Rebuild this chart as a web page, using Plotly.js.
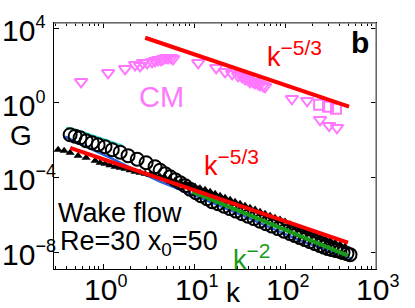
<!DOCTYPE html>
<html>
<head>
<meta charset="utf-8">
<script src="https://cdn.plot.ly/plotly-3.0.1.min.js"></script>
<style>html,body{margin:0;padding:0;background:#fff;}#chart{width:415px;height:308px;}</style>
</head>
<body>
<div id="chart"></div>
<script>
// ---- data ----
var cmTriK = [0.573, 1.135, 1.745, 2.25, 2.55, 2.75, 3.05, 3.45, 3.72, 4.02, 4.34, 4.56, 4.92, 5.18, 5.58, 5.88,
  11.1, 17.5, 21.9, 26.2, 30.5, 33.7, 36.3, 39.2, 41.2, 44.5, 46.8, 50.5, 53.1, 57.3, 60.3, 119, 175, 243, 305, 372];
var cmTriG = [13.3, 40.2, 65.8, 108, 95, 138, 138, 156, 176, 199, 199, 225, 255, 255, 255, 225,
  138, 74.5, 45.5, 35.6, 27.8, 24.5, 19.2, 17.0, 13.3, 13.3, 11.7, 10.4, 9.2, 8.1, 7.2, 1.64, 1.28, 0.123, 0.0589, 0.046];
var cmSqK = [237, 297, 363];
var cmSqG = [0.78, 0.61, 0.48];

var circK = [0.434, 0.492, 0.558, 0.650, 0.757, 0.881, 1.05, 1.26, 1.54, 1.88, 2.37, 2.97, 3.72, 4.23, 4.80, 5.45,
  6.18, 7.02, 7.96, 9.04, 10.5, 11.9, 13.9, 15.8, 18.4, 21.4, 24.9, 28.9, 33.7, 39.2, 45.6, 53.1, 61.8, 71.9, 83.8,
  97.5, 114, 128.8, 146, 165.9, 188, 213.6, 243, 268.4, 297, 328.3, 363, 401.8, 434, 479.7, 518];
var circG = [1.95e-2, 1.62e-2, 1.34e-2, 9.3e-3, 7.26e-3, 5.68e-3, 4.44e-3, 3.07e-3, 2.25e-3, 1.47e-3, 9.52e-4, 6.18e-4,
  3.78e-4, 2.45e-4, 1.60e-4, 1.10e-4, 7.63e-5, 5.27e-5, 3.64e-5, 2.37e-5, 1.54e-5, 1.06e-5, 7.35e-6, 5.08e-6, 3.97e-6,
  2.92e-6, 2.15e-6, 1.58e-6, 1.16e-6, 8.51e-7, 6.27e-7, 4.60e-7, 3.38e-7, 2.49e-7, 1.83e-7, 1.34e-7, 9.9e-8, 7.72e-8,
  6.04e-8, 4.72e-8, 3.69e-8, 2.88e-8, 2.25e-8, 1.87e-8, 1.56e-8, 1.38e-8, 1.22e-8, 1.08e-8, 9.5e-9, 8.41e-9, 7.4e-9];

var triK = [0.320, 0.373, 0.434, 0.531, 0.650, 0.817, 0.927, 1.05, 1.19, 1.355, 1.54, 1.745, 1.98, 2.247, 2.55, 2.894,
  3.28, 3.728, 4.23, 4.80, 5.45, 6.18, 7.02, 7.96, 9.04, 10.26, 11.6, 13.21, 15.0, 17.01, 19.3, 21.9, 24.9, 28.2, 32.0,
  36.3, 41.2, 46.8, 53.1, 60.3, 68.4, 77.6, 88.1, 100, 113.5, 128.8, 146, 165.9, 188, 213.6, 243, 275.1, 312, 354.3,
  402, 456.2];
var triG = [3.07e-3, 2.71e-3, 2.12e-3, 1.47e-3, 1.15e-3, 7.91e-4, 6.18e-4, 5.47e-4, 4.55e-4, 3.78e-4, 3.34e-4, 2.96e-4,
  2.45e-4, 2.04e-4, 1.81e-4, 1.60e-4, 1.41e-4, 1.25e-4, 1.10e-4, 9.75e-5, 8.11e-5, 6.75e-5, 5.61e-5, 4.66e-5, 3.87e-5,
  3.22e-5, 2.68e-5, 2.23e-5, 1.74e-5, 1.36e-5, 1.06e-5, 8.32e-6, 6.50e-6, 5.08e-6, 3.97e-6, 3.10e-6, 2.43e-6, 1.90e-6,
  1.48e-6, 1.16e-6, 9.06e-7, 7.08e-7, 5.54e-7, 4.33e-7, 3.18e-7, 2.34e-7, 1.83e-7, 1.43e-7, 1.12e-7, 8.73e-8, 6.83e-8,
  5.33e-8, 4.17e-8, 3.26e-8, 2.55e-8, 1.99e-8];

var blueK = [0.382, 0.492, 0.720, 1.19, 1.98, 4.23, 11.6, 41.2, 146, 402, 545];
var blueG = [1.52e-2, 8.2e-3, 3.47e-3, 1.15e-3, 3.34e-4, 5.96e-5, 8.32e-6, 6.27e-7, 4.17e-8, 7.4e-9, 4.55e-9];
var cyanK = [0.392, 0.531, 0.720, 1.05, 1.62];
var cyanG = [0.046, 0.0318, 0.0195, 0.0105, 5.02e-3];

var fitTopK = [2.9, 505], fitTopG = [3020, 0.617];
var fitLowK = [0.434, 492], fitLowG = [3.89e-3, 3.24e-8];
var fitGreenK = [9.5, 492], fitGreenG = [1.74e-5, 6.6e-9];

var xTickVals = [1, 10, 100, 1000];
var xTickExp = ['0', '1', '2', '3'];
var yTickVals = [1e-8, 1e-4, 1, 1e4];
var yTickExp = ['\u22128', '\u22124', '0', '4'];

// ---- layout helpers ----
var W = 415, H = 308, L = 54, R = 376, T = 23, B = 269;
var XR = [-0.54, 3.0], YR = [-8.9, 4.27];
function px(x) { return (x - L) / (R - L); }
function py(y) { return (B - y) / (B - T); }
function yPix(v) { return B - (Math.log10(v) - YR[0]) / (YR[1] - YR[0]) * (B - T); }
function xPix(v) { return L + (Math.log10(v) - XR[0]) / (XR[1] - XR[0]) * (R - L); }
function pow10(e) { return '10<sup><span style="font-size:18px">' + e + '</span></sup>'; }
function kpow(e) { return 'k<sup><span style="font-size:21px">' + e + '</span></sup>'; }
var FONT = 'Liberation Sans, Arial, Helvetica, sans-serif';
var PINK = '#FF77FF', RED = '#FF0000', GREEN = '#1A9A1A';

var minorX = [];
[0.1, 1, 10, 100].forEach(function (d) { for (var i = 2; i <= 9; i++) minorX.push(i * d); });

var traces = [
  {x: cmTriK, y: cmTriG, mode: 'markers', type: 'scatter',
   marker: {symbol: 'triangle-down-open', size: 11, color: PINK, line: {width: 2, color: PINK}}},
  {x: cmSqK, y: cmSqG, mode: 'markers', type: 'scatter',
   marker: {symbol: 'square-open', size: 10, color: PINK, line: {width: 2, color: PINK}}},
  {x: fitTopK, y: fitTopG, mode: 'lines', type: 'scatter', line: {color: RED, width: 4}},
  {x: blueK, y: blueG, mode: 'lines', type: 'scatter', line: {color: '#2a62e0', width: 2.5}},
  {x: cyanK, y: cyanG, mode: 'lines', type: 'scatter', line: {color: '#40E0D0', width: 2.5}},
  {x: triK, y: triG, mode: 'markers', type: 'scatter',
   marker: {symbol: 'triangle-up', size: 8, color: '#000'}},
  {x: circK, y: circG, mode: 'markers', type: 'scatter',
   marker: {symbol: 'circle-open', size: 13, color: '#000', line: {width: 2, color: '#000'}}},
  {x: fitGreenK, y: fitGreenG, mode: 'lines', type: 'scatter', line: {color: GREEN, width: 4}},
  {x: fitLowK, y: fitLowG, mode: 'lines', type: 'scatter', line: {color: RED, width: 4}}
];

function ann(text, x, y, size, color, xanchor, yanchor) {
  return {text: text, xref: 'paper', yref: 'paper', x: px(x), y: py(y), showarrow: false,
    xanchor: xanchor || 'left', yanchor: yanchor || 'middle', borderpad: 0,
    font: {family: FONT, size: size, color: color || '#000'}};
}

var annotations = [
  ann('<b>b</b>', 360, 42, 30, '#000', 'center'),
  ann(kpow('\u22125/3'), 266, 54, 27, RED),
  ann('CM', 161, 97, 29, PINK, 'center'),
  ann(kpow('\u22125/3'), 203, 163, 27, RED),
  ann('Wake flow', 57, 213, 27),
  ann('Re=30 x<sub>0</sub>=50', 59, 243, 27),
  ann(kpow('\u22122'), 232, 257, 27, GREEN),
  ann('G', 21, 135, 28, '#000', 'center'),
  ann('k', 234, 292, 28, '#000', 'center')
];
// tick labels as annotations (MATLAB-style placement)
xTickVals.forEach(function (v, i) {
  annotations.push(ann(pow10(xTickExp[i]), xPix(v) + 2, 307, 30, '#000', 'center', 'bottom'));
});
yTickVals.forEach(function (v, i) {
  annotations.push(ann(pow10(yTickExp[i]), 1, yPix(v) + 20, 30, '#000', 'left', 'bottom'));
});

var layout = {
  width: W, height: H,
  margin: {l: L, r: W - R, t: T, b: H - B, pad: 0},
  paper_bgcolor: '#fff', plot_bgcolor: '#fff',
  showlegend: false,
  font: {family: FONT, size: 26, color: '#000'},
  xaxis: {
    type: 'log', range: XR, tickmode: 'array', tickvals: xTickVals, showticklabels: false,
    ticks: 'inside', ticklen: 5, tickcolor: '#000', showline: true, linecolor: '#000', linewidth: 1,
    mirror: 'ticks', showgrid: false, zeroline: false,
    minor: {tickmode: 'array', tickvals: minorX, ticks: 'inside', ticklen: 3, tickcolor: '#000', showgrid: false}
  },
  yaxis: {
    type: 'log', range: YR, tickmode: 'array', tickvals: yTickVals, showticklabels: false,
    ticks: 'inside', ticklen: 5, tickcolor: '#000', showline: true, linecolor: '#000', linewidth: 1,
    mirror: 'ticks', showgrid: false, zeroline: false
  },
  shapes: [
    {type: 'line', xref: 'paper', yref: 'paper', x0: 0, x1: 1, y0: 1, y1: 1, line: {color: '#888', width: 1.5}},
    {type: 'line', xref: 'paper', yref: 'paper', x0: 1, x1: 1, y0: 0, y1: 1, line: {color: '#888', width: 1.5}}
  ],
  annotations: annotations
};

Plotly.newPlot('chart', traces, layout, {staticPlot: true, displayModeBar: false});
</script>
</body>
</html>
